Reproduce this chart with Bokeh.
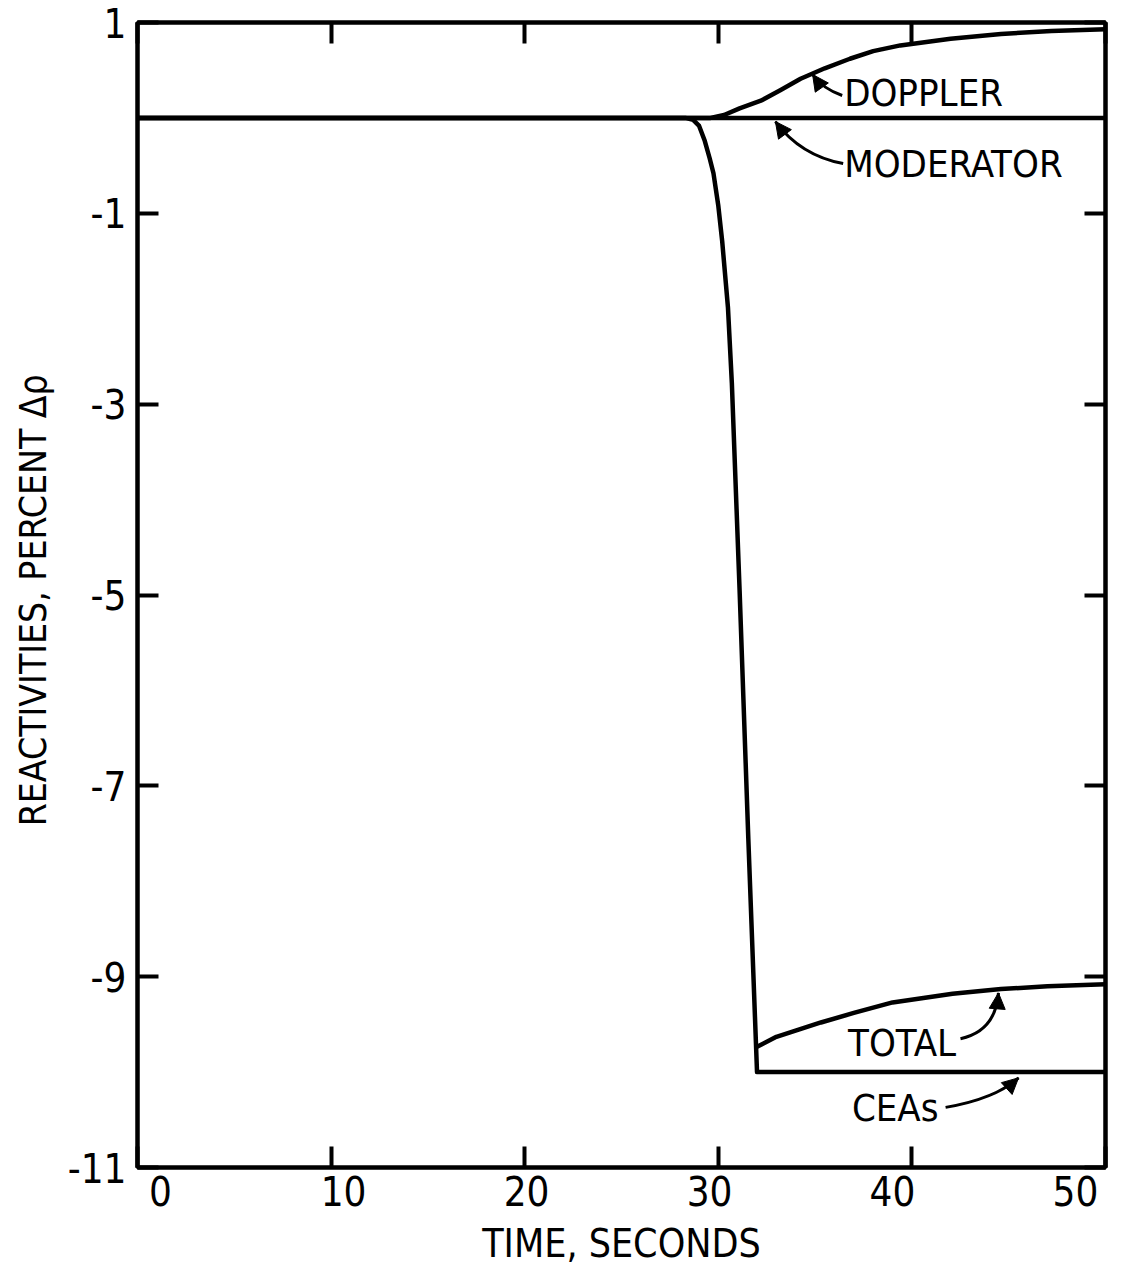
from bokeh.plotting import figure
from bokeh.models import (Range1d, LinearAxis, FixedTicker, ColumnDataSource,
                          Arrow, NormalHead)
from bokeh.core.properties import value
from bokeh.embed import file_html
from bokeh.resources import INLINE

# ---- data ----
x_ticks = [0, 10, 20, 30, 40, 50]
x_tick_labels = ["0", "10", "20", "30", "40", "50"]
y_ticks = [1, -1, -3, -5, -7, -9, -11]
y_tick_labels = ["1", "-1", "-3", "-5", "-7", "-9", "-11"]

moderator_t = [0, 50]
moderator_v = [0, 0]

doppler_t = [0, 29.6, 30.3, 31.1, 32.2, 33.2, 34.25, 35.5, 36.8, 38.0, 39.4, 42.0, 44.6, 47.2, 50.0]
doppler_v = [0, 0, 0.03, 0.10, 0.18, 0.29, 0.41, 0.52, 0.62, 0.70, 0.76, 0.83, 0.88, 0.91, 0.93]

ceas_t = [0, 28.3, 28.7, 29.0, 29.3, 29.55, 29.75, 30.0, 30.2, 30.5, 30.7, 31.1, 31.55, 32.0, 50.0]
ceas_v = [0, 0, -0.02, -0.08, -0.24, -0.42, -0.58, -0.92, -1.29, -1.99, -2.78, -4.95, -7.55, -10.0, -10.0]

total_t = [31.95, 33.0, 35.3, 37.0, 39.0, 42.1, 44.6, 47.0, 50.0]
total_v = [-9.74, -9.63, -9.48, -9.38, -9.27, -9.18, -9.13, -9.10, -9.08]

# annotation labels (text, x, y) and leader arrows (tail, control, head)
label_text = ["DOPPLER", "MODERATOR", "TOTAL", "CEAs"]
label_x = [36.5, 36.5, 36.7, 36.9]
label_y = [0.256, -0.48, -9.69, -10.38]

arrow_x0 = [36.40, 36.45, 42.51, 41.74]
arrow_y0 = [0.235, -0.478, -9.65, -10.37]
arrow_cx = [35.38, 34.25, 44.32, 44.32]
arrow_cy = [0.308, -0.394, -9.57, -10.28]
arrow_x1 = [34.87, 32.95, 44.47, 45.51]
arrow_y1 = [0.455, -0.038, -9.17, -10.06]

# the printed time labels sit on a slightly narrower scale than the ticks
label_scale_start = -1.26
label_scale_end = 51.64

FONT = "DejaVu Sans Condensed"

p = figure(x_range=Range1d(0, 50), y_range=Range1d(-11, 1),
           width=1121, height=1277, output_backend="svg", toolbar_location=None,
           min_border_left=137, min_border_right=16, min_border_top=22,
           min_border_bottom=110, background_fill_color="white",
           border_fill_color="white")
p.extra_x_ranges = {"labels": Range1d(label_scale_start, label_scale_end)}
p.xgrid.visible = False
p.ygrid.visible = False
p.outline_line_color = "black"
p.outline_line_width = 4


def style_axis(ax, ticks, labels):
    ax.ticker = FixedTicker(ticks=ticks)
    ax.axis_line_width = 4
    ax.axis_line_color = "black"
    ax.major_tick_in = 21
    ax.major_tick_out = 0
    ax.major_tick_line_width = 4
    ax.minor_tick_line_color = None
    ax.major_label_text_font = FONT
    ax.major_label_text_font_size = "40px"
    ax.major_label_text_color = "black"
    ax.axis_label_text_font = FONT
    ax.axis_label_text_font_style = "normal"
    ax.axis_label_text_color = "black"
    if labels is None:
        ax.major_label_overrides = {t: "" for t in ticks}
        ax.major_label_text_font_size = "1px"
        ax.major_label_standoff = 0
    else:
        ax.major_label_overrides = {t: s for t, s in zip(ticks, labels)}


# bottom: ticks on the frame, labels on their own axis just below
style_axis(p.xaxis[0], x_ticks, None)

xlab = LinearAxis(x_range_name="labels")
style_axis(xlab, x_ticks, x_tick_labels)
xlab.axis_line_color = None
xlab.major_tick_line_color = None
xlab.major_label_standoff = 8
xlab.axis_label = "TIME, SECONDS"
xlab.axis_label_text_font_size = "39px"
xlab.axis_label_standoff = 12
p.add_layout(xlab, "below")

style_axis(p.yaxis[0], y_ticks, y_tick_labels)
p.yaxis[0].major_label_standoff = 11
p.yaxis[0].major_label_orientation = "horizontal"
p.yaxis[0].axis_label = "REACTIVITIES,  PERCENT Δρ"
p.yaxis[0].axis_label_text_font_size = "37px"
p.yaxis[0].axis_label_standoff = 10

top = LinearAxis()
style_axis(top, x_ticks, None)
p.add_layout(top, "above")
right = LinearAxis()
style_axis(right, y_ticks, None)
p.add_layout(right, "right")

# ---- curves ----
lw = 4.5
for t, v in [(moderator_t, moderator_v), (doppler_t, doppler_v),
             (ceas_t, ceas_v), (total_t, total_v)]:
    p.line(t, v, line_color="black", line_width=lw, line_join="round")

# ---- labels ----
p.text(x=label_x, y=label_y, text=label_text, text_font=value(FONT),
       text_font_size=value("38px"), text_align="left",
       text_baseline="middle", text_color="black")

# ---- leader arrows ----
src = ColumnDataSource(dict(x0=arrow_x0, y0=arrow_y0, cx=arrow_cx,
                            cy=arrow_cy, x1=arrow_x1, y1=arrow_y1))
p.quadratic(x0="x0", y0="y0", cx="cx", cy="cy", x1="x1", y1="y1",
            source=src, line_color="black", line_width=3)
for x1, y1, cx, cy in zip(arrow_x1, arrow_y1, arrow_cx, arrow_cy):
    xs = x1 - 0.35 * (x1 - cx)
    ys = y1 - 0.35 * (y1 - cy)
    p.add_layout(Arrow(end=NormalHead(size=16, fill_color="black",
                                      line_color="black", line_width=1),
                       x_start=xs, y_start=ys, x_end=x1, y_end=y1,
                       line_color="black", line_width=3))

open("out.html", "w").write(file_html(p, INLINE))
